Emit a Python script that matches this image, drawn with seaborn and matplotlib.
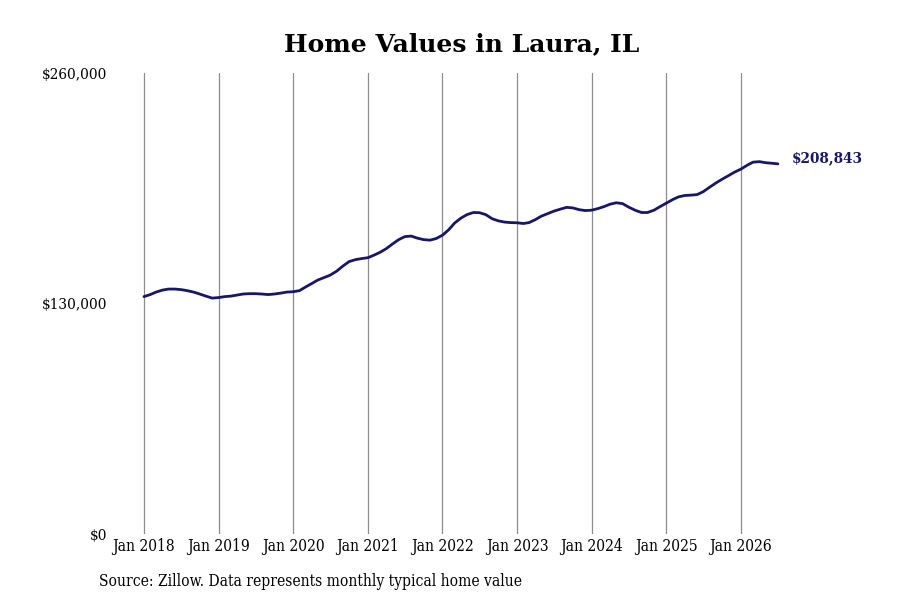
import pandas as pd
import numpy as np
import seaborn as sns
import matplotlib.pyplot as plt
import matplotlib.dates as mdates

# Monthly typical home value, Jan 2018 - Jul 2026
start_month = '2018-01-01'
home_values = [
    133950, 135100, 136500, 137600, 138200, 138200, 137900, 137300, 136500, 135400, 134200, 133100,
    133400, 133950, 134200, 134800, 135400, 135600, 135600, 135400, 135100, 135400, 135900, 136500,
    136700, 137300, 139300, 141300, 143300, 144700, 146100, 148300, 151200, 153700, 154800, 155400,
    155900, 157400, 158900, 161000, 163600, 166100, 167800, 168100, 166900, 166100, 165800, 166700,
    168600, 171700, 175400, 178200, 180200, 181400, 181300, 180200, 177900, 176700, 176000, 175700,
    175600, 175200, 175700, 177400, 179400, 180800, 182200, 183300, 184300, 184000, 183000, 182500,
    182700, 183600, 184700, 186100, 186900, 186400, 184400, 182700, 181400, 181400, 182700, 184700,
    186700, 188700, 190200, 191000, 191200, 191500, 193200, 195700, 198100, 200200, 202200, 204200,
    205900, 208100, 209800, 210100, 209500, 209200, 208843,
]
last_label = '$208,843'
y_ticks = [0, 130000, 260000]
y_tick_labels = ['$0', '$130,000', '$260,000']
x_tick_years = list(range(2018, 2027))

dates = pd.date_range(start_month, periods=len(home_values), freq='MS')
df = pd.DataFrame({'date': dates, 'value': home_values})

sns.set_style('white')
plt.rcParams['font.family'] = ['DejaVu Serif']
plt.rcParams['text.color'] = 'black'
plt.rcParams['xtick.color'] = 'black'
plt.rcParams['ytick.color'] = 'black'

fig = plt.figure(figsize=(9, 6), dpi=100)
ax = fig.add_axes([0.125, 0.11, 0.775, 0.768])

navy = '#16166b'
sns.lineplot(data=df, x='date', y='value', color=navy, linewidth=2.0, ax=ax)

# x range so that Jan 2018 and Jan 2026 land where the reference has them
ax.set_xlim(pd.Timestamp('2018-01-01') - pd.Timedelta(days=154),
            pd.Timestamp('2026-01-01') + pd.Timedelta(days=338))
ax.set_ylim(0, 260000)

xticks = [pd.Timestamp(f'{y}-01-01') for y in x_tick_years]
ax.set_xticks(xticks)
ax.set_xticklabels([f'Jan {y}' for y in x_tick_years], fontsize=11.2, fontstretch='condensed')
ax.set_yticks(y_ticks)
ax.set_yticklabels(y_tick_labels, fontsize=11, fontstretch='condensed')
ax.tick_params(axis='x', length=0, pad=3)
ax.tick_params(axis='y', length=0, pad=3.5)

ax.grid(axis='x', color='#8c8c8c', linewidth=0.9)
ax.grid(axis='y', visible=False)
for s in ax.spines.values():
    s.set_visible(False)
ax.set_xlabel('')
ax.set_ylabel('')

# end-of-line value label
ax.annotate(last_label, xy=(df['date'].iloc[-1], df['value'].iloc[-1]),
            xytext=(10, 4), textcoords='offset points', va='center', ha='left',
            fontsize=9.8, fontweight='bold', color=navy)

fig.text(0.513, 0.927, 'Home Values in Laura, IL', ha='center', va='center',
         fontsize=18, fontweight='bold', color='black')
fig.text(0.11, 0.031, 'Source: Zillow. Data represents monthly typical home value',
         ha='left', va='center', fontsize=11.2, fontstretch='condensed', color='black')

fig.savefig('out.png', dpi=100)
